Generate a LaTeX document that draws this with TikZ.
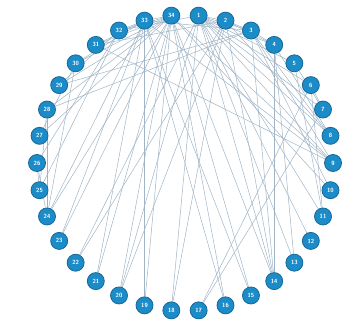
\documentclass[tikz,border=0pt]{standalone}
\usepackage{xcolor}
\definecolor{kcblue}{RGB}{28,140,200}
\definecolor{kcdark}{RGB}{22,104,152}
\definecolor{kcedge}{RGB}{160,180,198}
\usepackage{tikz}
\usetikzlibrary{positioning,backgrounds}

\begin{document}
\begin{tikzpicture}[x=1pt, y=1pt,
  member/.style={circle, draw=kcdark, line width=0.8pt, fill=kcblue, minimum size=17pt, inner sep=0pt,
    font=\sffamily\bfseries\fontsize{6}{7}\selectfont, text=white},
  tie/.style={kcedge, line width=0.5pt}]
\useasboundingbox (0,0) rectangle (345,325);
% Club members on a ring
\foreach \k in {1,...,34}
  \node[member] (m\k) at ({185+148*cos(90-(\k-0.5)*360/34)}, {162+148*sin(90-(\k-0.5)*360/34)}) {\k};
% Ties between members
\begin{pgfonlayer}{background}
\foreach \a/\b in {1/2,1/3,1/4,1/5,1/6,1/7,1/8,1/9,1/11,1/12,1/13,1/14,1/18,1/20,1/22,1/32,
  2/3,2/4,2/8,2/14,2/18,2/20,2/22,2/31,
  3/4,3/8,3/9,3/10,3/14,3/28,3/29,3/33,
  4/8,4/13,4/14,5/7,5/11,6/7,6/11,6/17,7/17,
  9/31,9/33,9/34,10/34,14/34,15/33,15/34,16/33,16/34,19/33,19/34,20/34,21/33,21/34,23/33,23/34,
  24/26,24/28,24/30,24/33,24/34,25/26,25/28,25/32,26/32,27/30,27/34,28/34,29/32,29/34,
  30/33,30/34,31/33,31/34,32/33,32/34,33/34}
  \draw[tie] (m\a) -- (m\b);
\end{pgfonlayer}
\end{tikzpicture}
\end{document}
